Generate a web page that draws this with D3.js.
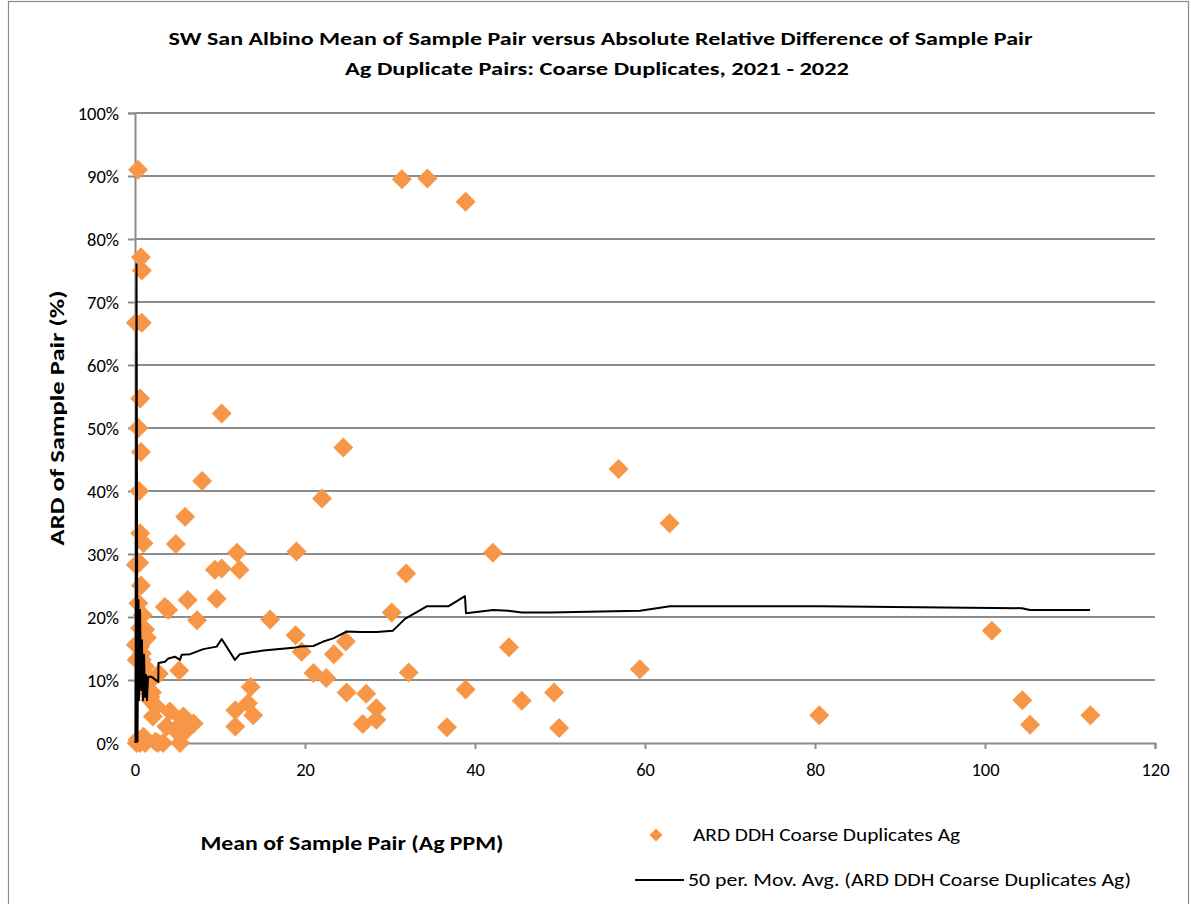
<!DOCTYPE html>
<html>
<head>
<meta charset="utf-8">
<script src="https://cdn.jsdelivr.net/npm/d3@7"></script>
<style>
  html, body { margin: 0; padding: 0; background: #fff; }
  svg { display: block; }
  text { font-family: Carlito, Calibri, Lato, "Open Sans", sans-serif; fill: #000; }
</style>
</head>
<body>
<script>
// Mean of sample pair (Ag ppm) for each duplicate pair
const meanAg = [
  0.35, 0.7, 0.8, 0.1, 0.8, 0.6, 0.4, 0.7, 0.5, 0.6,
  1.0, 0.5, 0.1, 0.7, 0.4, 0.9, 0.6, 1.2, 1.4, 0.1,
  0.6, 0.8, 0.2, 0.8, 1.2, 2.8, 1.2, 1.8, 1.8, 2.5,
  2.1, 0.2, 1.2, 2.7, 3.3, 0.6, 2.4, 0.3, 1.0, 3.7,
  3.5, 3.9, 5.9, 4.8, 7.9, 10.2, 6.2, 7.3, 9.4, 10.2,
  12.3, 12.0, 9.6, 5.2, 4.1, 5.5, 6.9, 4.7, 5.3, 5.7,
  6.1, 11.8, 11.8, 13.3, 13.6, 13.9, 15.9, 18.9, 19.0, 19.6,
  21.0, 22.0, 22.5, 23.4, 24.5, 24.8, 24.9, 27.2, 26.8, 28.4,
  28.4, 30.2, 31.9, 32.2, 31.4, 34.4, 38.9, 36.7, 38.9, 42.1,
  44.0, 45.5, 49.3, 49.9, 56.9, 62.9, 59.4, 80.5, 100.8, 104.4,
  105.3, 112.4, 1.5, 2.0, 1.1
];
// Absolute relative difference of the pair (%)
const ardPct = [
  91.0, 77.1, 75.0, 66.7, 66.7, 54.7, 50.0, 46.2, 40.0, 33.3,
  31.7, 28.6, 28.3, 25.0, 22.2, 20.3, 18.2, 18.0, 16.7, 15.6,
  15.3, 14.2, 13.2, 13.2, 12.1, 11.0, 8.4, 7.3, 6.8, 5.8,
  4.2, 0.0, 0.0, 0.0, 0.0, 0.0, 0.2, 0.5, 1.0, 2.6,
  21.6, 21.1, 35.9, 31.6, 41.6, 52.3, 22.7, 19.5, 27.5, 27.7,
  27.5, 30.2, 22.9, 11.5, 5.0, 3.9, 3.1, 2.1, 0.0, 4.2,
  2.1, 5.2, 2.6, 6.3, 8.9, 4.4, 19.6, 17.1, 30.4, 14.5,
  11.1, 38.8, 10.3, 14.1, 46.9, 16.1, 8.0, 7.8, 3.0, 5.5,
  3.7, 20.7, 26.9, 11.2, 89.5, 89.6, 85.9, 2.5, 8.5, 30.2,
  15.2, 6.7, 8.0, 2.4, 43.5, 34.9, 11.7, 4.4, 17.8, 6.8,
  2.9, 4.4, 9.5, 8.0, 11.0
];

// 50-period moving average trendline vertices (x in ppm, y in %)
const maX = [
  0.06, 0.18, 0.29, 0.41, 0.47, 0.59, 0.71, 0.82, 0.94, 1.06,
  1.18, 1.29, 1.41, 1.53, 1.96, 2.74, 2.76, 3.53, 3.92, 4.71,
  5.29, 5.49, 6.47, 8.04, 9.61, 10.2, 11.76, 12.35, 15.09, 18.62,
  19.41, 20.98, 22.15, 23.33, 24.91, 26.47, 28.44, 30.32, 31.76, 34.32,
  36.86, 38.82, 38.94, 42.15, 43.92, 45.49, 48.82, 59.41, 62.94, 80.59,
  104.35, 105.29, 112.35
];
const maY = [
  0.0, 76.0, 0.2, 22.7, 6.8, 21.1, 8.4, 16.3, 6.8, 14.0,
  7.3, 10.8, 6.8, 10.5, 10.5, 9.7, 12.7, 12.9, 13.4, 13.7,
  13.2, 14.0, 14.1, 14.9, 15.3, 16.5, 13.2, 14.1, 14.7, 15.1,
  15.3, 15.4, 16.1, 16.6, 17.7, 17.6, 17.6, 17.8, 19.7, 21.7,
  21.7, 23.3, 20.6, 21.1, 21.0, 20.7, 20.7, 21.0, 21.7, 21.7,
  21.4, 21.1, 21.1
];

const xTicks = [0, 20, 40, 60, 80, 100, 120];
const yTicks = [0, 10, 20, 30, 40, 50, 60, 70, 80, 90, 100];

const titleLines = [
  "SW San Albino Mean of Sample Pair versus Absolute Relative Difference of Sample Pair",
  "Ag Duplicate Pairs: Coarse Duplicates, 2021 - 2022"
];
const xTitle = "Mean of Sample Pair (Ag PPM)";
const yTitle = "ARD of Sample Pair (%)";
const legendScatter = "ARD DDH Coarse Duplicates Ag";
const legendLine = "50 per. Mov. Avg. (ARD DDH Coarse Duplicates Ag)";

const W = 1191, H = 904;
const ORANGE = "#F79646";
const GRID = "#8c8c8c";

const svg = d3.select("body").append("svg")
  .attr("width", W).attr("height", H);

svg.append("rect").attr("width", W).attr("height", H).attr("fill", "#fff");
// chart frame
svg.append("rect")
  .attr("x", 8.5).attr("y", 1.5).attr("width", 1180).attr("height", 920)
  .attr("fill", "none").attr("stroke", "#8c8c8c").attr("stroke-width", 1.2);

const x = d3.scaleLinear().domain([0, 120]).range([135, 1155]);
const y = d3.scaleLinear().domain([0, 100]).range([743, 113]);

// horizontal gridlines
svg.append("g").selectAll("line").data(yTicks.filter(d => d > 0)).join("line")
  .attr("x1", x(0)).attr("x2", x(120))
  .attr("y1", d => y(d)).attr("y2", d => y(d))
  .attr("stroke", GRID).attr("stroke-width", 2);

// y axis
const yAxis = svg.append("g").attr("transform", `translate(${x(0)},0)`)
  .call(d3.axisLeft(y).tickValues(yTicks).tickSize(7).tickFormat(d => d + "%"));
yAxis.attr("font-family", null).attr("font-size", null);
yAxis.select(".domain").attr("stroke", GRID).attr("stroke-width", 2);
yAxis.selectAll(".tick line").attr("stroke", GRID).attr("stroke-width", 2);
yAxis.selectAll(".tick text")
  .attr("x", -16).attr("dy", "0.34em")
  .style("font-size", "18.5px");

// x axis
const xAxis = svg.append("g").attr("transform", `translate(0,${y(0)})`)
  .call(d3.axisBottom(x).tickValues(xTicks).tickSize(6).tickFormat(d3.format("d")));
xAxis.attr("font-family", null).attr("font-size", null);
xAxis.select(".domain").attr("stroke", GRID).attr("stroke-width", 2);
xAxis.selectAll(".tick line").attr("stroke", GRID).attr("stroke-width", 2);
xAxis.selectAll(".tick text")
  .attr("y", 0).attr("dy", "33px")
  .style("font-size", "18.5px");

// scatter points
const pts = meanAg.map((m, i) => ({ m, a: ardPct[i] }));
const diamond = s => `M0,${-s}L${s},0L0,${s}L${-s},0Z`;
svg.append("g").selectAll("path").data(pts).join("path")
  .attr("d", diamond(10))
  .attr("transform", d => `translate(${x(d.m)},${y(d.a)})`)
  .attr("fill", ORANGE);

// moving average trendline
const ma = maX.map((v, i) => [v, maY[i]]);
svg.append("path")
  .datum(ma)
  .attr("d", d3.line().x(d => x(d[0])).y(d => y(d[1])))
  .attr("fill", "none").attr("stroke", "#000").attr("stroke-width", 2)
  .attr("stroke-linejoin", "round");

// titles
svg.append("text").attr("x", 600.5).attr("y", 45).attr("text-anchor", "middle")
  .style("font-size", "19px").style("font-weight", "bold")
  .attr("textLength", 864).attr("lengthAdjust", "spacingAndGlyphs")
  .text(titleLines[0]);
svg.append("text").attr("x", 597).attr("y", 75).attr("text-anchor", "middle")
  .style("font-size", "19px").style("font-weight", "bold")
  .attr("textLength", 504).attr("lengthAdjust", "spacingAndGlyphs")
  .text(titleLines[1]);

svg.append("text").attr("x", 352).attr("y", 850).attr("text-anchor", "middle")
  .style("font-size", "20px").style("font-weight", "bold")
  .attr("textLength", 303).attr("lengthAdjust", "spacingAndGlyphs")
  .text(xTitle);

svg.append("text")
  .attr("transform", "translate(64,418) rotate(-90)")
  .attr("text-anchor", "middle")
  .style("font-size", "20px").style("font-weight", "bold")
  .attr("textLength", 255).attr("lengthAdjust", "spacingAndGlyphs")
  .text(yTitle);

// legend
const lg = svg.append("g");
lg.append("path").attr("d", diamond(6.5))
  .attr("transform", "translate(656,835)").attr("fill", ORANGE);
lg.append("text").attr("x", 693).attr("y", 841)
  .style("font-size", "18px")
  .attr("textLength", 267).attr("lengthAdjust", "spacingAndGlyphs")
  .text(legendScatter);
lg.append("line").attr("x1", 635).attr("x2", 684).attr("y1", 880).attr("y2", 880)
  .attr("stroke", "#000").attr("stroke-width", 2);
lg.append("text").attr("x", 688).attr("y", 886)
  .style("font-size", "18px")
  .attr("textLength", 443).attr("lengthAdjust", "spacingAndGlyphs")
  .text(legendLine);
</script>
</body>
</html>
